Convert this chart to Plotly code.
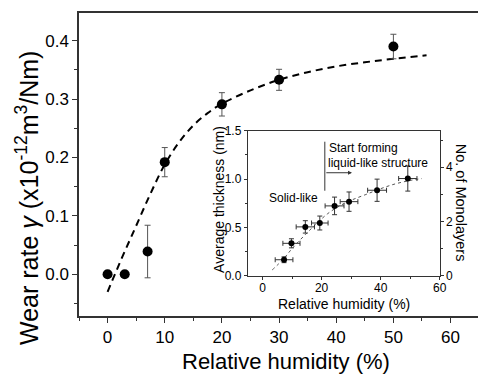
import plotly.graph_objects as go

# Main data
rh = [0, 3, 7, 10, 20, 30, 50]
wear = [0.0, 0.0, 0.039, 0.192, 0.291, 0.333, 0.390]
wear_err = [0, 0, 0.045, 0.025, 0.020, 0.018, 0.021]

# Dashed fit curve
fit_x = [0, 2.5, 5, 7.5, 10, 12.5, 15, 17.5, 20, 25, 30, 35, 40, 45, 50, 55.8]
fit_y = [-0.03, 0.028, 0.083, 0.138, 0.188, 0.226, 0.255, 0.276, 0.292, 0.315, 0.333, 0.346, 0.356, 0.363, 0.369, 0.375]

# Inset data
in_rh = [7.3, 9.8, 14.5, 19.4, 24.4, 29.3, 38.8, 49.2]
in_rh_err = [3.0, 2.9, 3.1, 2.8, 3.2, 3.0, 3.2, 3.1]
in_th = [0.165, 0.335, 0.505, 0.545, 0.722, 0.766, 0.884, 1.005]
in_th_err = [0.03, 0.047, 0.064, 0.072, 0.091, 0.10, 0.115, 0.13]

in_fit_x = [3.3, 7, 10, 14, 18, 22, 26, 30, 35, 40, 45, 50, 54]
in_fit_y = [0.06, 0.17, 0.28, 0.41, 0.53, 0.64, 0.72, 0.78, 0.84, 0.90, 0.95, 0.985, 1.005]

FONT = "Arial, Liberation Sans, sans-serif"

fig = go.Figure()

fig.add_trace(go.Scatter(
    x=fit_x, y=fit_y, mode="lines", line=dict(color="black", width=2, dash="7px,5px", shape="spline"),
    xaxis="x", yaxis="y", showlegend=False, hoverinfo="skip"))
fig.add_trace(go.Scatter(
    x=rh, y=wear, mode="markers", marker=dict(color="black", size=10),
    error_y=dict(type="data", array=wear_err, color="#555", thickness=1, width=3),
    xaxis="x", yaxis="y", showlegend=False))

fig.add_trace(go.Scatter(
    x=in_fit_x, y=in_fit_y, mode="lines", line=dict(color="#555", width=1, dash="3px,3px", shape="spline"),
    xaxis="x2", yaxis="y2", showlegend=False, hoverinfo="skip"))
fig.add_trace(go.Scatter(
    x=in_rh, y=in_th, mode="markers", marker=dict(color="black", size=6),
    error_y=dict(type="data", array=in_th_err, color="#333", thickness=1, width=2.5),
    error_x=dict(type="data", array=in_rh_err, color="#333", thickness=1, width=2.5),
    xaxis="x2", yaxis="y2", showlegend=False))
# invisible trace to activate the right axis
fig.add_trace(go.Scatter(x=[0], y=[0], mode="markers", marker=dict(opacity=0),
                         xaxis="x2", yaxis="y3", showlegend=False, hoverinfo="skip"))

axis_common = dict(showgrid=False, zeroline=False, showline=True, linecolor="#333", linewidth=1.5,
                   ticks="outside", tickcolor="#333", tickwidth=1.2)
inset_common = {**axis_common, "linewidth": 1, "tickwidth": 1}

fig.update_layout(
    width=485, height=375,
    margin=dict(l=79, r=0, t=13, b=59),
    paper_bgcolor="white", plot_bgcolor="white",
    font=dict(family=FONT, color="black"),
    xaxis=dict(domain=[0, 1], range=[-5, 64.8], tickvals=[0, 10, 20, 30, 40, 50, 60], ticklen=5,
               minor=dict(dtick=5, tick0=0, ticks="outside", ticklen=3, tickcolor="#333"),
               tickfont=dict(size=17), mirror=True, anchor="y", **axis_common),
    yaxis=dict(domain=[0, 1], range=[-0.0714, 0.4474], tickvals=[0, 0.1, 0.2, 0.3, 0.4], tickformat=".1f",
               ticklen=5, minor=dict(dtick=0.05, tick0=0, ticks="outside", ticklen=3, tickcolor="#333"),
               tickfont=dict(size=17), anchor="x", **axis_common),
    xaxis2=dict(domain=[0.4229, 0.904], range=[-5, 60], tickvals=[0, 20, 40, 60], ticklen=3,
                minor=dict(dtick=10, tick0=0, ticks="outside", ticklen=2, tickcolor="#333"),
                tickfont=dict(size=12), mirror=True, anchor="y2", ticklabelstandoff=-2, **inset_common),
    yaxis2=dict(domain=[0.133, 0.6116], range=[0, 1.5], tickvals=[0, 0.5, 1.0, 1.5], tickformat=".1f",
                ticklen=3, minor=dict(dtick=0.25, tick0=0, ticks="outside", ticklen=2, tickcolor="#333"),
                tickfont=dict(size=12), anchor="x2", **inset_common),
    yaxis3=dict(range=[0, 5.35], tickvals=[0, 2, 4], ticklen=3, overlaying="y2", side="right", anchor="x2",
                minor=dict(dtick=1, tick0=0, ticks="outside", ticklen=2, tickcolor="#333"),
                tickfont=dict(size=12), **inset_common),
)

annotations = [
    dict(text="Relative humidity (%)", xref="paper", yref="paper", x=0.5197, y=-0.1518,
         xanchor="center", yanchor="middle", showarrow=False, font=dict(size=22)),
    dict(text="Wear rate <i>γ</i> (x10<sup>-12</sup>m<sup>3</sup>/Nm)", xref="paper", yref="paper",
         x=-0.13, y=0.39, xanchor="center", yanchor="middle", textangle=-90, showarrow=False,
         font=dict(size=25)),
    dict(text="Relative humidity (%)", xref="paper", yref="paper", x=0.6633, y=0.040,
         xanchor="center", yanchor="middle", showarrow=False, font=dict(size=14)),
    dict(text="Average thickness (nm)", xref="paper", yref="paper", x=0.3506, y=0.3861,
         xanchor="center", yanchor="middle", textangle=-90, showarrow=False, font=dict(size=14)),
    dict(text="No. of Monolayers", xref="paper", yref="paper", x=0.9581, y=0.3729,
         xanchor="center", yanchor="middle", textangle=90, showarrow=False, font=dict(size=14.5)),
    dict(text="Solid-like", xref="x2", yref="y2", x=1.4, y=0.804, xanchor="left", yanchor="middle",
         showarrow=False, font=dict(size=12)),
    dict(text="Start forming", xref="x2", yref="y2", x=21.7, y=1.324, xanchor="left", yanchor="middle",
         showarrow=False, font=dict(size=12)),
    dict(text="liquid-like structure", xref="x2", yref="y2", x=21.4, y=1.169, xanchor="left",
         yanchor="middle", showarrow=False, font=dict(size=12)),
    dict(text="", xref="x2", yref="y2", x=30.3, y=1.065, ax=21.1, ay=1.065, axref="x2", ayref="y2",
         showarrow=True, arrowhead=2, arrowsize=0.8, arrowwidth=1, arrowcolor="#333"),
]
fig.update_layout(annotations=annotations)
fig.add_shape(type="line", xref="x2", yref="y2", x0=21.1, x1=21.1, y0=0.879, y1=1.386,
              line=dict(color="#333", width=1))

fig.write_html("out.html")
